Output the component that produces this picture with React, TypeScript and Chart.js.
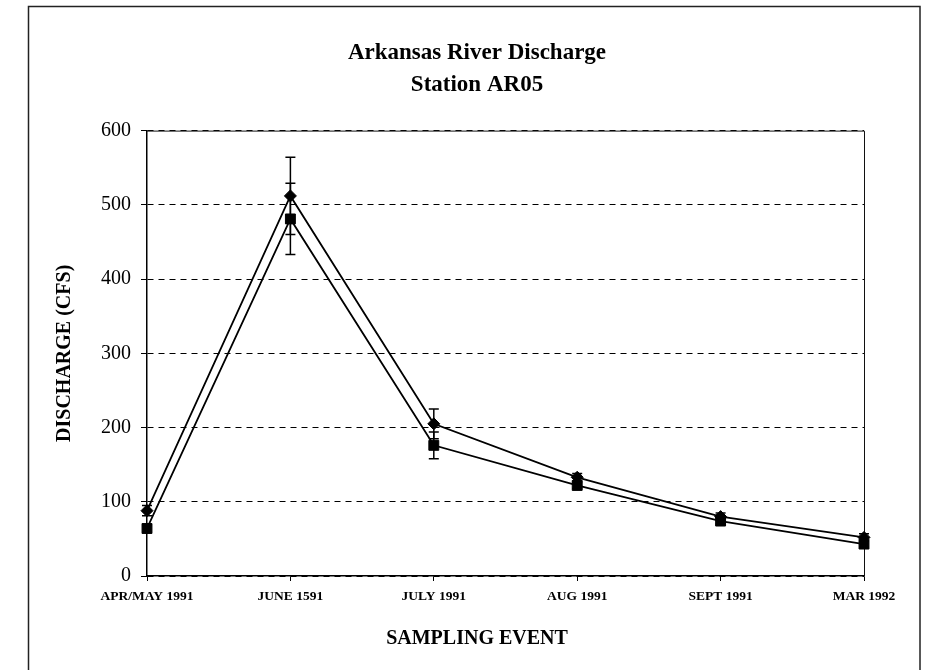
import React, { useEffect, useRef } from 'react';
import { Chart, registerables } from 'chart.js';

Chart.register(...registerables);

const categories = ['APR/MAY 1991', 'JUNE 1591', 'JULY 1991', 'AUG 1991', 'SEPT 1991', 'MAR 1992'];
const diamondSeries = [88, 512, 205, 133, 80, 52];
const diamondErrors = [7, 52, 20, 5, 5, 5];
const squareSeries = [64, 481, 176, 122, 74, 43];
const squareErrors = [5, 48, 18, 4, 4, 4];
const yTicks = [0, 100, 200, 300, 400, 500, 600];

const titleLines = ['Arkansas River Discharge', 'Station AR05'];
const xTitle = 'SAMPLING EVENT';
const yTitle = 'DISCHARGE (CFS)';

const errorsByDataset = [diamondErrors, squareErrors];

const frameAndErrorPlugin = {
  id: 'frameAndError',
  beforeDraw(chart: any) {
    const ctx = chart.ctx;
    ctx.save();
    ctx.fillStyle = '#ffffff';
    ctx.fillRect(0, 0, chart.width, chart.height);
    ctx.strokeStyle = '#222';
    ctx.lineWidth = 1.5;
    ctx.strokeRect(28.5, 6.5, chart.width - 11 - 28.5, chart.height + 5);
    ctx.restore();
  },
  beforeDatasetsDraw(chart: any) {
    const { ctx, chartArea } = chart;
    ctx.save();
    ctx.strokeStyle = '#111';
    ctx.lineWidth = 1;
    ctx.beginPath();
    ctx.moveTo(chartArea.left, chartArea.top + 0.5);
    ctx.lineTo(chartArea.right + 0.5, chartArea.top + 0.5);
    ctx.lineTo(chartArea.right + 0.5, chartArea.bottom);
    ctx.stroke();
    ctx.restore();
  },
  afterDatasetsDraw(chart: any) {
    const ctx = chart.ctx;
    const yScale = chart.scales.y;
    ctx.save();
    ctx.strokeStyle = '#000';
    ctx.lineWidth = 1.5;
    chart.data.datasets.forEach((ds: any, i: number) => {
      const meta = chart.getDatasetMeta(i);
      const errs = errorsByDataset[i];
      meta.data.forEach((pt: any, j: number) => {
        const v = ds.data[j];
        const e = errs[j];
        const yTop = yScale.getPixelForValue(v + e);
        const yBot = yScale.getPixelForValue(v - e);
        const x = pt.x;
        const cap = 5;
        ctx.beginPath();
        ctx.moveTo(x, yTop);
        ctx.lineTo(x, yBot);
        ctx.moveTo(x - cap, yTop);
        ctx.lineTo(x + cap, yTop);
        ctx.moveTo(x - cap, yBot);
        ctx.lineTo(x + cap, yBot);
        ctx.stroke();
      });
    });
    ctx.restore();
  },
};

export default function App() {
  const ref = useRef<HTMLCanvasElement>(null);

  useEffect(() => {
    if (!ref.current) return;
    const serif = "'Liberation Serif', 'Times New Roman', serif";
    const chart = new Chart(ref.current, {
      type: 'line',
      data: {
        labels: categories,
        datasets: [
          {
            label: 'Series A',
            data: diamondSeries,
            borderColor: '#000',
            backgroundColor: '#000',
            borderWidth: 1.8,
            pointStyle: 'rectRot',
            pointRadius: 6,
            pointBorderWidth: 1,
            tension: 0,
          },
          {
            label: 'Series B',
            data: squareSeries,
            borderColor: '#000',
            backgroundColor: '#000',
            borderWidth: 1.8,
            pointStyle: 'rect',
            pointRadius: 7,
            pointBorderWidth: 1,
            tension: 0,
          },
        ],
      },
      options: {
        responsive: false,
        animation: false,
        layout: { padding: { left: 30, right: 7, top: 0, bottom: 0 } },
        plugins: {
          legend: { display: false },
          tooltip: { enabled: false },
          title: {
            display: true,
            text: titleLines,
            color: '#000',
            font: { family: serif, size: 23, weight: 'bold', lineHeight: 1.35 },
            padding: { top: 38, bottom: 30.5 },
          },
          subtitle: {
            display: true,
            position: 'bottom',
            text: xTitle,
            color: '#000',
            font: { family: serif, size: 20, weight: 'bold', lineHeight: 1.2 },
            padding: { top: 0, bottom: 19 },
          },
        },
        scales: {
          x: {
            type: 'category',
            offset: false,
            grid: {
              display: true,
              drawOnChartArea: false,
              drawTicks: true,
              tickLength: 5,
              color: '#000',
            },
            border: { display: true, color: '#000', width: 1.5 },
            ticks: {
              color: '#000',
              font: { family: serif, size: 13.5, weight: 'bold' },
              padding: 7,
              maxRotation: 0,
              autoSkip: false,
            },
            afterFit(scale: any) {
              scale.height = 670 - 576 - 43;
            },
          },
          y: {
            type: 'linear',
            position: 'left',
            min: 0,
            max: 600,
            afterBuildTicks(scale: any) {
              scale.ticks = yTicks.map((v) => ({ value: v }));
            },
            grid: {
              display: true,
              color: '#000',
              lineWidth: 1,
              tickLength: 6,
              drawTicks: true,
            },
            border: { display: true, color: '#000', width: 1.5, dash: [6, 5] },
            ticks: {
              color: '#000',
              font: { family: serif, size: 20 },
              padding: 10,
            },
            title: {
              display: true,
              text: yTitle,
              color: '#000',
              font: { family: serif, size: 20, weight: 'bold', lineHeight: 1.2 },
              padding: { top: 23, bottom: 0 },
            },
            afterFit(scale: any) {
              scale.width = 117;
            },
          },
          y2: {
            type: 'linear',
            position: 'right',
            display: true,
            grid: { display: false, drawTicks: false },
            border: { display: false },
            ticks: { display: false },
            afterFit(scale: any) {
              scale.width = 60;
            },
          },
        },
      },
      plugins: [frameAndErrorPlugin],
    } as any);
    return () => chart.destroy();
  }, []);

  return (
    <div style={{ position: 'fixed', left: 0, top: 0, width: 931, height: 670, background: '#fff' }}>
      <canvas ref={ref} width={931} height={670} style={{ display: 'block' }} />
    </div>
  );
}
